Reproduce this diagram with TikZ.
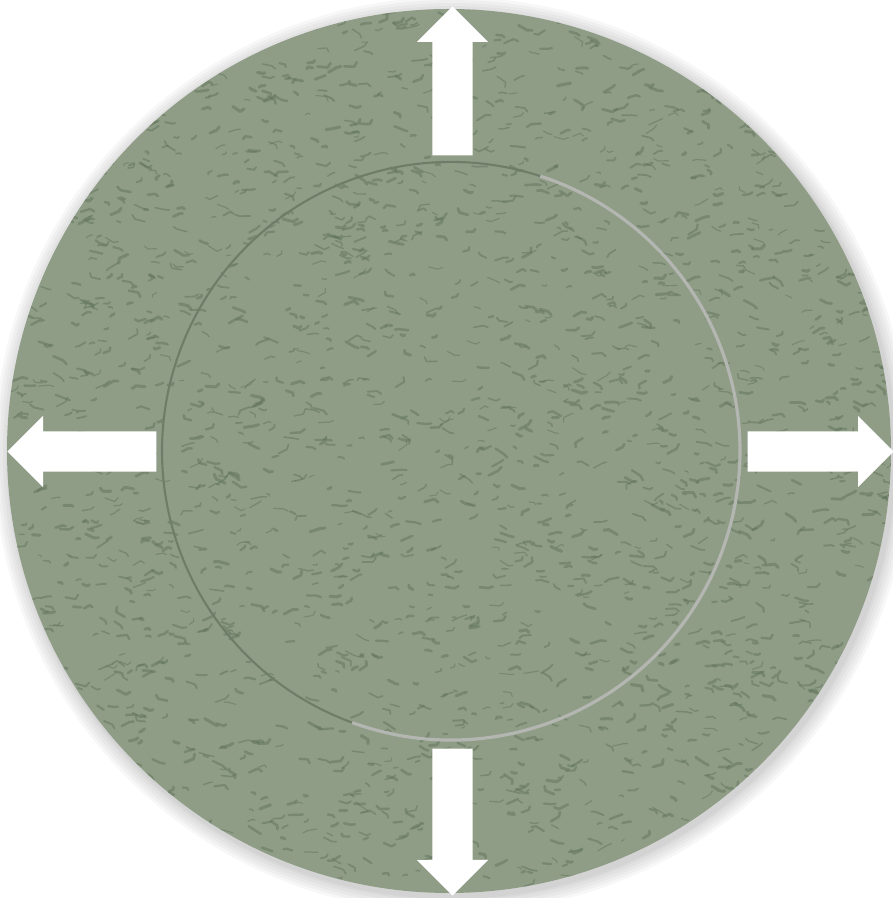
\documentclass[tikz,border=0pt]{standalone}
\usepackage{tikz}
\usetikzlibrary{positioning}
\usetikzlibrary{shapes.arrows}
\definecolor{platebase}{RGB}{143,157,135}
\definecolor{plategrain}{RGB}{98,116,91}
\definecolor{platerim}{RGB}{180,182,178}
\definecolor{plateedge}{RGB}{110,125,104}

\begin{document}
\begin{tikzpicture}[
        plate/.style={circle, fill=platebase, draw=none, inner sep=0pt},
        grain/.style={draw=plategrain, line cap=round, line join=round, opacity=0.5},
        bigarrow/.style={single arrow, fill=white, draw=none,
                    single arrow head extend=0.155cm,
                    single arrow tip angle=90, anchor=tail},
        hwide/.style={inner xsep=0pt, inner ysep=0.195cm},
        vwide/.style={inner xsep=0.195cm, inner ysep=0pt}
    ]
        \useasboundingbox (0,0) rectangle (8.93,8.98);
        % soft shadow round the plate
        \foreach \s in {0.16,0.13,0.10,0.07,0.04,0.02}
            \fill[black, opacity=0.03] (4.52,4.43) circle (4.42+\s);
        \node[plate, minimum size=8.84cm] (outer) at (4.49,4.47) {};
        % texture of the plate
        \begin{scope}
            \clip (outer.center) circle (4.42);
            \pgfmathsetseed{4711}
            \foreach \k in {1,...,2600} {
                \pgfmathsetmacro\gx{0.1+rnd*8.8}
                \pgfmathsetmacro\gy{0.1+rnd*8.8}
                \pgfmathsetmacro\ga{-35+rnd*70+180*(rnd>0.8)}
                \pgfmathsetmacro\gb{\ga-70+rnd*140}
                \pgfmathsetmacro\gl{0.025+rnd*0.08}
                \pgfmathsetmacro\gw{0.3+rnd*0.6}
                \draw[grain, line width=\gw pt] (\gx,\gy) -- ++(\ga:\gl) -- ++(\gb:0.5*\gl);
            }
        \end{scope}
        \node[circle, minimum size=5.78cm, inner sep=0pt] (inner) at (4.51,4.47) {};
        \draw[plateedge, line width=0.6pt] (inner.center) ++(70:2.89) arc (70:255:2.89);
        \draw[platerim, line width=0.9pt] (inner.center) ++(-110:2.89) arc (-110:72:2.89);

        \node[bigarrow, vwide, minimum height=1.49cm, shape border rotate=90] (up) at (4.525,7.42) {};
        \node[bigarrow, hwide, minimum height=1.49cm, shape border rotate=180] (left) at (1.57,4.465) {};
        \node[bigarrow, hwide, minimum height=1.46cm, shape border rotate=0] (right) at (7.47,4.465) {};
        \node[bigarrow, vwide, minimum height=1.47cm, shape border rotate=270] (down) at (4.525,1.50) {};
    \end{tikzpicture}
\end{document}
